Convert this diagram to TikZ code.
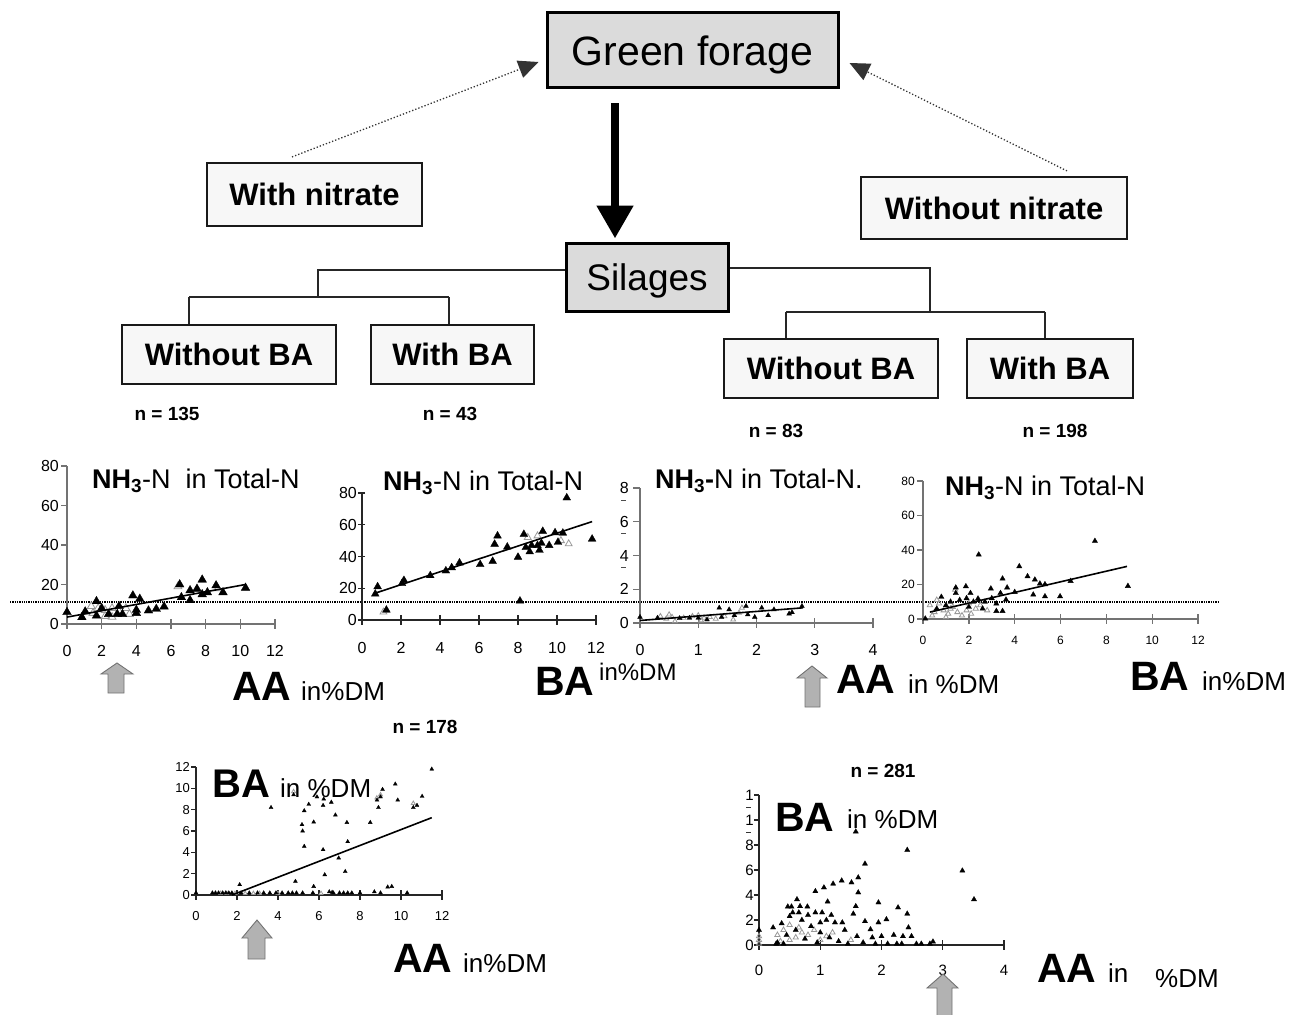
\documentclass[tikz,border=0pt]{standalone}
\usepackage{fontspec}
\setmainfont{Liberation Sans}
\usetikzlibrary{arrows.meta,plotmarks,calc}
\newcommand\myfs[1]{\fontsize{#1}{#1}\selectfont}
\tikzset{
  bigbox/.style={draw=black, line width=3pt, fill=black!14, inner sep=0pt, text depth=0pt, font=\myfs{41pt}},
  smbox/.style={draw=black!90, line width=2.2pt, fill=black!3, inner sep=0pt, font=\myfs{31pt}\bfseries},
  babox/.style={draw=black!90, line width=1.5pt, fill=black!3, inner sep=0pt, font=\myfs{31pt}\bfseries},
  nlab/.style={font=\myfs{19pt}\bfseries, inner sep=0pt},
  ttl/.style={font=\myfs{27pt}, anchor=base west, inner sep=0pt},
  bigl/.style={font=\myfs{41pt}\bfseries, anchor=base west, inner sep=0pt},
  unitl/.style={font=\myfs{26pt}, anchor=base west, inner sep=0pt},
  tree/.style={draw=black!85, line width=1.1pt},
  dotarr/.style={dotted, line width=1.3pt, draw=black!80, -{Triangle[width=18pt,length=20pt]}},
  bigarr/.style={line width=8pt, -{Triangle[width=35pt,length=33pt]}},
  garrow/.style={fill=black!30, draw=black!55, line width=0.9pt},
  axg/.style={draw=black!55, line width=1.3pt},
  axk/.style={draw=black!85, line width=1.2pt},
  reg/.style={line width=1.6pt},
  tk/.style={font=\myfs{#1}, inner sep=0pt},
  pts/.style={only marks, mark=triangle*, mark size=#1, mark options={fill=black, draw=black, line width=0.3pt}},
  lpts/.style={only marks, mark=triangle, mark size=#1, mark options={draw=black!40, fill=white, line width=0.8pt}},
}
\begin{document}
\begin{tikzpicture}[x=1pt,y=-1pt]
\fill[white] (0,0) rectangle (1289,1014);
\useasboundingbox (0,0) rectangle (1289,1014);

% ---------- flow part ----------
\node[bigbox, minimum width=291pt, minimum height=75pt] (GF) at (692.5,50.5) {Green forage};
\node[smbox, minimum width=215pt, minimum height=63pt] (WN) at (314.5,194.5) {With nitrate};
\node[smbox, minimum width=266pt, minimum height=62pt] (WoN) at (994,208) {Without nitrate};
\node[bigbox, minimum width=162pt, minimum height=68pt, font=\myfs{37pt}] (Sil) at (647,277) {Silages};
\node[babox, minimum width=214pt, minimum height=59pt] (LWo) at (229,354.5) {Without BA};
\node[babox, minimum width=163pt, minimum height=59pt] (LW) at (452.5,354.5) {With BA};
\node[babox, minimum width=214pt, minimum height=59pt] (RWo) at (831,368.5) {Without BA};
\node[babox, minimum width=166pt, minimum height=59pt] (RW) at (1050,368.5) {With BA};

\draw[bigarr] ([xshift=-77.5pt,yshift=-14pt]GF.south) -- ([xshift=-32pt,yshift=3pt]Sil.north);
\draw[dotarr] ([xshift=-22.5pt,yshift=5pt]WN.north) -- ([xshift=-7pt,yshift=-11.5pt]GF.west);
\draw[dotarr] ([xshift=73pt,yshift=5pt]WoN.north) -- ([xshift=10pt,yshift=-12.5pt]GF.east);

\coordinate (jL) at (318,270);
\coordinate (jLd) at (318,297);
\coordinate (jLa) at (189,297);
\coordinate (jLb) at (449,297);
\draw[tree] (Sil.west |- jL) -- (jL) -- (jLd);
\draw[tree] (jLa) -- (jLb);
\draw[tree] (jLa) -- (jLa |- LWo.north);
\draw[tree] (jLb) -- (jLb |- LW.north);
\coordinate (jR) at (930,268);
\coordinate (jRd) at (930,312);
\coordinate (jRa) at (786,312);
\coordinate (jRb) at (1045,312);
\draw[tree] (Sil.east |- jR) -- (jR) -- (jRd);
\draw[tree] (jRa) -- (jRb);
\draw[tree] (jRa) -- (jRa |- RWo.north);
\draw[tree] (jRb) -- (jRb |- RW.north);

\node[nlab] (n135) at (167,414) {n = 135};
\node[nlab] (n43) at (450,414) {n = 43};
\node[nlab] (n83) at (776,431) {n = 83};
\node[nlab] (n198) at (1055,431) {n = 198};
\node[nlab] (n178) at (425,727) {n = 178};
\node[nlab] (n281) at (883,771) {n = 281};

% reference line
\draw[densely dotted, line width=1.3pt] (10,602) -- (1218,602);

% ---------- plot 1 ----------
\begin{scope}[shift={(67,624)}, x=17.333pt, y=1.975pt]
\draw[axg] (0,80) -- (0,0) -- (12,0);
\foreach \v in {0,20,40,60,80} {\draw[axg] (0,\v) -- ++(-6pt,0pt); \node[tk=16pt, anchor=east] (pay\v) at ([xshift=-8pt]0,\v) {\v};}
\foreach \v in {0,2,4,6,8,10,12} {\draw[axg] ([yshift=5pt]\v,0) -- ([yshift=-5pt]\v,0); \node[tk=16pt] (pax\v) at ([yshift=-27pt]\v,0) {\v};}
\draw plot[lpts=4.5pt] coordinates {(1.4,9) (1.8,8) (2.2,7) (2.6,8) (3.0,6.5) (3.4,8) (2.2,4) (2.6,3.5) (1.5,5.5) (6.4,19) (8.7,18) (3.6,5)};
\draw[reg] (0,3.5) -- (10.3,20);
\draw plot[pts=5pt] coordinates {(0,6) (0.86,3.4) (1.05,6.3) (1.7,11.5) (1.7,4.2) (2.4,5) (2.9,5) (3.2,5) (3.8,14.4) (4.0,7.1) (4.2,12.7) (4.0,5.5) (4.7,6.8) (5.15,7.6) (5.6,8.8) (6.5,20) (6.6,13.5) (7.1,17) (7.1,12) (7.5,17.8) (7.8,22.4) (7.8,15) (8.1,16) (8.6,19.5) (9.0,16) (10.3,18.3) (2.0,8) (3.0,9)};
\end{scope}
\node[ttl] (t1) at (92,488) {\textbf{NH\textsubscript{3}}-N\ \ in Total-N};
\node[bigl] (aa1) at (232,700) {AA};
\node[unitl] (aa1u) at (301,700) {in\%DM};
\draw[garrow] (117,663) -- (133,674) -- (124,674) -- (124,693) -- (108,693) -- (108,674) -- (101,674) -- cycle;

% ---------- plot 2 ----------
\begin{scope}[shift={(362,620)}, x=19.5pt, y=1.5875pt]
\draw[axk] (0,80) -- (0,0) -- (12,0);
\foreach \v in {0,20,40,60,80} {\draw[axk] ([xshift=3pt]0,\v) -- ++(-7pt,0pt); \node[tk=16pt, anchor=east] (pby\v) at ([xshift=-5pt]0,\v) {\v};}
\foreach \v in {0,2,4,6,8,10,12} {\draw[axk] ([yshift=5pt]\v,0) -- ([yshift=-5pt]\v,0); \node[tk=16pt] (pbx\v) at ([yshift=-28pt]\v,0) {\v};}
\draw plot[lpts=4pt] coordinates {(1.1,5) (8.5,52) (10.2,50) (10.6,48) (9.0,53)};
\draw[reg] (0.7,17) -- (11.8,62);
\draw plot[pts=4.5pt] coordinates {(0.68,16.4) (0.8,21) (1.25,6.3) (2.05,23) (2.15,25) (3.5,28) (4.3,31) (4.6,33) (5.0,36) (6.06,35) (6.7,37) (6.8,47.8) (6.95,53) (7.45,46) (8.0,39.6) (8.1,12) (8.3,54) (8.4,45.7) (8.7,47) (9.0,47) (9.27,55.9) (9.2,48.4) (9.6,47) (9.9,55) (10.05,49) (10.3,54.8) (10.5,77) (11.8,51) (8.6,43) (9.1,44)};
\end{scope}
\node[ttl] (t2) at (383,490) {\textbf{NH\textsubscript{3}}-N in Total-N};
\node[bigl] (ba2) at (535,695) {BA};
\node[unitl, font=\myfs{24pt}] (ba2u) at (599,680) {in\%DM};

% ---------- plot 3 ----------
\begin{scope}[shift={(640,623)}, x=58.25pt, y=16.875pt]
\draw[axg] (0,8) -- (0,0) -- (4,0);
\foreach \v in {0,2,4,6,8} {\draw[axg] (0,\v) -- ++(-7pt,0pt); \node[tk=16pt, anchor=east] (pcy\v) at ([xshift=-11pt]0,\v) {\v};}
\foreach \v in {2,4,6,8} {\draw[black!70, line width=1pt] ([xshift=-19pt,yshift=-12pt]0,\v) -- ++(5pt,0pt);}
\foreach \v in {0,1,2,3,4} {\draw[axg] ([yshift=5pt]\v,0) -- ([yshift=-5pt]\v,0); \node[tk=16pt] (pcx\v) at ([yshift=-27pt]\v,0) {\v};}
\draw plot[lpts=2.8pt] coordinates {(0.35,0.4) (0.45,0.25) (0.55,0.35) (0.75,0.3) (0.9,0.4) (1.05,0.15) (1.2,0.35) (1.3,0.25) (1.45,0.4) (1.6,0.2) (1.7,0.6) (1.75,0.9) (0.6,0.1) (1.0,0.45) (1.1,0.3) (0.5,0.5)};
\draw[reg] (0,0.15) -- (2.8,0.9);
\draw plot[pts=2.8pt] coordinates {(0,0.35) (0.3,0.3) (0.68,0.28) (1.0,0.3) (1.36,0.9) (1.53,0.8) (1.82,1.0) (1.85,0.5) (1.97,0.35) (2.09,0.9) (2.2,0.45) (2.3,0.8) (2.56,0.55) (2.61,0.63) (2.78,1.0) (1.62,0.45) (1.4,0.35) (1.15,0.2) (0.85,0.3)};
\end{scope}
\node[ttl] (t3) at (655,488) {\textbf{NH\textsubscript{3}-}N in Total-N.};
\node[bigl] (aa3) at (836,693) {AA};
\node[unitl] (aa3u) at (908,693) {in \%DM};
\draw[garrow] (812,666) -- (827,678) -- (820,678) -- (820,707) -- (805,707) -- (805,678) -- (797,678) -- cycle;

% ---------- plot 4 ----------
\begin{scope}[shift={(923,619)}, x=22.92pt, y=1.725pt]
\draw[axg] (0,80) -- (0,0) -- (12,0);
\foreach \v in {0,20,40,60,80} {\draw[axg] (0,\v) -- ++(-6pt,0pt); \node[tk=12pt, anchor=east] (pdy\v) at ([xshift=-8pt]0,\v) {\v};}
\foreach \v in {0,2,4,6,8,10,12} {\draw[axg] ([yshift=5pt]\v,0) -- ([yshift=-5pt]\v,0); \node[tk=12pt] (pdx\v) at ([yshift=-21pt]\v,0) {\v};}
\draw plot[lpts=3pt] coordinates {(0.3,8) (0.5,4) (0.7,9) (0.9,5) (1.1,3) (1.3,7) (1.5,4) (1.7,2) (1.9,5) (2.1,3) (2.3,6) (2.5,8) (2.8,5) (1.4,17) (0.4,2) (1.0,1) (0.6,11) (1.2,6) (2.0,9)};
\draw[reg] (0.3,4) -- (8.9,30.5);
\draw plot[pts=3.1pt] coordinates {(2.43,37.3) (4.2,30.5) (7.5,45.2) (8.94,19.1) (4.56,24.7) (4.88,22.8) (3.47,23.4) (3.67,18.2) (2.96,17.6) (1.87,18.9) (1.43,18.2) (2.07,15) (1.43,15) (5.1,20.5) (5.32,20.1) (6.44,22) (5.98,13.1) (5.32,13.1) (4.81,14.1) (4.0,15.6) (3.38,15) (3.62,11.2) (3.2,8.9) (3.2,4.6) (3.47,4.6) (2.4,11.8) (0.8,12.8) (0.1,0.2) (1.2,10) (1.6,11) (1.9,12) (2.2,10) (2.7,10) (3.0,12) (2.0,7) (2.6,6) (1.0,8) (0.6,6)};
\end{scope}
\node[ttl] (t4) at (945,495) {\textbf{NH\textsubscript{3}}-N in Total-N};
\node[bigl] (ba4) at (1130,690) {BA};
\node[unitl] (ba4u) at (1202,690) {in\%DM};

% ---------- plot 5 ----------
\begin{scope}[shift={(196,895)}, x=20.5pt, y=10.667pt]
\draw[axk] (0,12) -- (0,0) -- (12,0);
\foreach \v in {0,2,4,6,8,10,12} {\draw[axk] (0,\v) -- ++(-5pt,0pt); \node[tk=13pt, anchor=east] (pey\v) at ([xshift=-6pt]0,\v) {\v};}
\foreach \v in {0,2,4,6,8,10,12} {\draw[axk] ([yshift=5pt]\v,0) -- ([yshift=-5pt]\v,0); \node[tk=13pt] (pex\v) at ([yshift=-21pt]\v,0) {\v};}
\draw plot[lpts=2.3pt] coordinates {(1.9,0.15) (2.4,0.15) (2.8,0.15) (3.1,0.15) (4.0,0.15) (6.1,0.15) (10.6,8.6) (9.0,9.4) (4.76,9.7) (8.82,9.1) (1.2,0.15) (1.5,0.15)};
\draw[reg] (1.76,0) -- (11.5,7.25);
\draw plot[pts=2.3pt] coordinates {(2.13,0.97) (3.66,8.2) (4.76,9.4) (4.85,1.28) (5.17,6.6) (5.2,6.0) (5.28,4.56) (5.28,7.9) (5.5,8.5) (5.74,6.84) (5.74,0.8) (5.9,9.2) (6.2,4.25) (6.2,8.4) (6.28,1.9) (6.23,9.0) (6.6,8.7) (6.8,7.5) (6.96,3.47) (7.36,6.8) (7.4,5.0) (7.28,2.2) (8.5,6.8) (8.83,8.9) (8.9,8.2) (9.0,9.2) (9.1,9.9) (9.35,0.75) (9.55,0.8) (9.72,10.4) (9.84,8.9) (10.6,8.2) (10.78,8.4) (11.03,9.25) (11.5,11.8) (6.64,0.25) (0,0.2) (0.8,0.2) (0.95,0.2) (1.1,0.2) (1.3,0.2) (1.45,0.2) (1.6,0.2) (1.75,0.2) (2.2,0.2) (2.6,0.2) (3.0,0.2) (3.3,0.2) (3.6,0.2) (3.9,0.2) (4.2,0.2) (4.5,0.2) (4.7,0.2) (4.9,0.2) (5.2,0.2) (5.7,0.2) (6.5,0.3) (6.7,0.2) (7.0,0.2) (7.2,0.2) (7.4,0.2) (7.6,0.2) (8.0,0.2) (8.7,0.3) (9.0,0.2) (10.3,0.2)};
\end{scope}
\node[bigl, font=\myfs{40pt}\bfseries] (ba5) at (212,797) {BA};
\node[unitl] (ba5u) at (280,797) {in \%DM};
\node[bigl] (aa5) at (393,972) {AA};
\node[unitl] (aa5u) at (463,972) {in\%DM};
\draw[garrow] (257,920) -- (272,938) -- (265,938) -- (265,959) -- (248,959) -- (248,938) -- (242,938) -- cycle;

% ---------- plot 6 ----------
\begin{scope}[shift={(759,945)}, x=61.25pt, y=12.5pt]
\draw[axk] (0,12) -- (0,0) -- (4,0);
\foreach \v in {0,2,4,6,8} {\draw[axk] (0,\v) -- ++(-5pt,0pt); \node[tk=15pt, anchor=east] (pfy\v) at ([xshift=-5pt]0,\v) {\v};}
\foreach \v in {10,12} {\draw[axk] (0,\v) -- ++(-5pt,0pt); \node[tk=15pt, anchor=east] (pfy\v) at ([xshift=-5pt]0,\v) {1}; \draw[black!80, line width=1pt] ([xshift=-13pt,yshift=-12pt]0,\v) -- ++(5pt,0pt);}
\foreach \v in {0,1,2,3,4} {\draw[axk] ([yshift=5pt]\v,0) -- ([yshift=-5pt]\v,0); \node[tk=15pt] (pfx\v) at ([yshift=-25pt]\v,0) {\v};}
\draw plot[lpts=3pt] coordinates {(0.3,0.8) (0.4,1.2) (0.5,1.6) (0.6,0.6) (0.7,1.0) (0.8,0.8) (0.9,1.2) (0.5,0.4) (1.0,0.4) (1.2,1.0) (0,0.4) (0,0.7) (0,0.1) (1.5,0.4) (0.35,0.3) (0.65,1.4) (1.1,0.7)};
\draw plot[pts=3pt] coordinates {(1.58,9.07) (2.42,7.6) (3.32,5.95) (3.51,3.65) (1.73,6.5) (1.35,5.15) (1.21,4.9) (1.06,4.6) (0.92,4.3) (1.51,5.0) (1.62,5.4) (1.62,4.2) (1.58,3.1) (1.54,2.5) (1.95,3.4) (2.27,3.0) (2.42,2.5) (2.44,1.4) (2.49,0.7) (2.08,2.05) (1.95,1.8) (1.73,1.9) (1.82,1.25) (0.62,3.65) (0.47,3.07) (0.53,3.07) (0.67,3.1) (0.79,3.07) (1.12,3.47) (1.18,2.4) (1.24,1.8) (1.36,1.8) (1.03,2.6) (0.92,2.6) (0.23,1.4) (0.37,1.73) (0,1.2) (2.84,0.27) (2.57,0.1) (2.65,0.1) (2.79,0.1) (0.3,0.2) (0.45,0.8) (0.5,2.3) (0.6,1.2) (0.7,2.0) (0.75,0.5) (0.85,1.5) (0.95,0.2) (1.0,1.0) (1.1,2.0) (1.15,0.6) (1.3,0.3) (1.4,1.2) (1.45,0.1) (1.6,0.7) (1.7,0.2) (1.85,0.6) (1.9,0.1) (2.0,0.7) (2.1,0.1) (2.2,0.8) (2.25,0.1) (2.35,0.7) (2.33,0.1) (0.8,2.4) (0.65,2.6) (0.55,2.6) (1.0,1.8) (0.4,0.1) (0.28,0.1)};
\end{scope}
\node[bigl] (ba6) at (775,831) {BA};
\node[unitl] (ba6u) at (847,828) {in \%DM};
\node[bigl] (aa6) at (1037,982) {AA};
\node[unitl] (aa6u) at (1108,982) {in};
\node[unitl] (aa6v) at (1155,987) {\%DM};
\draw[garrow] (943,974) -- (958,988) -- (952,988) -- (952,1016) -- (937,1016) -- (937,988) -- (927,988) -- cycle;
\end{tikzpicture}
\end{document}
